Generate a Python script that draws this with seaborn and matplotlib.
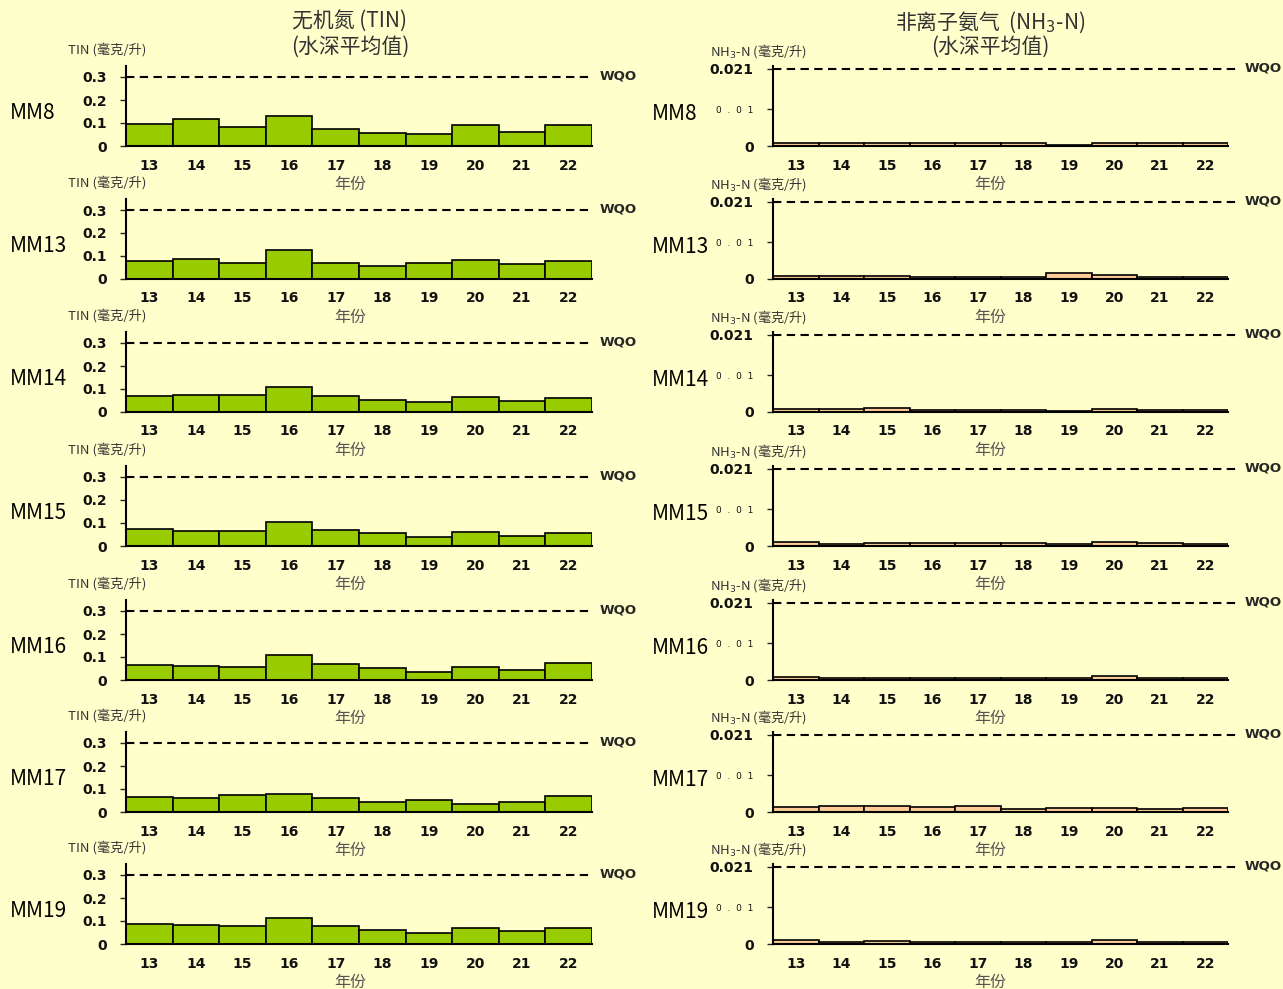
import pandas as pd
import seaborn as sns
import matplotlib.pyplot as plt

# 年份 / 测站
years = ['13', '14', '15', '16', '17', '18', '19', '20', '21', '22']
stations = ['MM8', 'MM13', 'MM14', 'MM15', 'MM16', 'MM17', 'MM19']

# 无机氮 (TIN), 毫克/升
tin_mm8 = [0.096, 0.118, 0.084, 0.131, 0.073, 0.057, 0.053, 0.091, 0.062, 0.091]
tin_mm13 = [0.078, 0.087, 0.070, 0.126, 0.070, 0.057, 0.070, 0.083, 0.065, 0.078]
tin_mm14 = [0.070, 0.074, 0.074, 0.109, 0.070, 0.052, 0.043, 0.065, 0.048, 0.061]
tin_mm15 = [0.074, 0.065, 0.065, 0.104, 0.070, 0.057, 0.039, 0.061, 0.043, 0.057]
tin_mm16 = [0.065, 0.061, 0.057, 0.109, 0.070, 0.052, 0.035, 0.057, 0.043, 0.074]
tin_mm17 = [0.064, 0.060, 0.073, 0.079, 0.063, 0.043, 0.051, 0.036, 0.043, 0.069]
tin_mm19 = [0.086, 0.084, 0.079, 0.114, 0.077, 0.060, 0.049, 0.070, 0.056, 0.070]

# 非离子氨气 (NH3-N), 毫克/升
nh3_mm8 = [0.0008, 0.0007, 0.0008, 0.0007, 0.0007, 0.0007, 0.0002, 0.0008, 0.0007, 0.0007]
nh3_mm13 = [0.0007, 0.0007, 0.0009, 0.0005, 0.0005, 0.0005, 0.0017, 0.0012, 0.0005, 0.0005]
nh3_mm14 = [0.0007, 0.0007, 0.0010, 0.0006, 0.0006, 0.0006, 0.0004, 0.0007, 0.0006, 0.0006]
nh3_mm15 = [0.0011, 0.0006, 0.0008, 0.0008, 0.0008, 0.0008, 0.0005, 0.0011, 0.0008, 0.0005]
nh3_mm16 = [0.0007, 0.0005, 0.0005, 0.0005, 0.0005, 0.0006, 0.0005, 0.0010, 0.0005, 0.0005]
nh3_mm17 = [0.0014, 0.0017, 0.0016, 0.0014, 0.0016, 0.0008, 0.0012, 0.0012, 0.0008, 0.0010]
nh3_mm19 = [0.0010, 0.0006, 0.0008, 0.0006, 0.0006, 0.0006, 0.0005, 0.0010, 0.0006, 0.0006]

tin_wqo = 0.3
nh3_wqo = 0.021

tin_values = [tin_mm8, tin_mm13, tin_mm14, tin_mm15, tin_mm16, tin_mm17, tin_mm19]
nh3_values = [nh3_mm8, nh3_mm13, nh3_mm14, nh3_mm15, nh3_mm16, nh3_mm17, nh3_mm19]

W, H = 1283, 989
BG = '#FFFFCC'

sns.set_style('ticks')
plt.rcParams['font.family'] = ['DejaVu Sans', 'Noto Sans CJK SC']
cjk = ['Noto Sans CJK SC', 'DejaVu Sans']

fig = plt.figure(figsize=(W / 100, H / 100), dpi=100, facecolor=BG)


def fx(x):
    return x / W


def fy(y):
    return 1 - y / H


def panel(x0, x1, z, values, wqo, color, ymax, ticks, ticklabels, wqo_end):
    ax = fig.add_axes([fx(x0), fy(z), fx(x1 - x0), 80 / H])
    ax.set_facecolor(BG)
    df = pd.DataFrame({'year': years, 'value': values})
    sns.barplot(data=df, x='year', y='value', order=years, color=color,
                saturation=1, width=1.0, edgecolor='black', linewidth=1.2, ax=ax)
    ax.plot([-0.5, wqo_end], [wqo, wqo], color='black', lw=1.5,
            ls=(0, (4, 2.6)), clip_on=False)
    ax.set_xlim(-0.5, 9.5)
    ax.set_ylim(0, ymax)
    ax.set_xlabel('')
    ax.set_ylabel('')
    for s in ['top', 'right']:
        ax.spines[s].set_visible(False)
    for s in ['left', 'bottom']:
        ax.spines[s].set_linewidth(1.5)
        ax.spines[s].set_color('black')
    ax.tick_params(axis='x', length=0, pad=9, labelsize=10)
    ax.tick_params(axis='y', length=4, width=1, pad=10, labelsize=10)
    ax.set_yticks(ticks)
    ax.set_yticklabels(ticklabels)
    for lbl in ax.get_xticklabels() + ax.get_yticklabels():
        lbl.set_fontweight('bold')
        lbl.set_color('#111111')
    return ax


row_zero = [146, 279, 412, 546, 680, 812, 944]

for i, st in enumerate(stations):
    z = row_zero[i]

    # 左: TIN
    panel(126, 592, z, tin_values[i], tin_wqo, '#99CC00', 80 / 230,
          [0, 0.1, 0.2, 0.3], ['0', '0.1', '0.2', '0.3'], 9.5)
    fig.text(fx(68), fy(z - 96), 'TIN (毫克/升)', fontsize=9.5, color='#333333',
             ha='left', va='center', family=cjk)
    fig.text(fx(350), fy(z + 38), '年份', fontsize=11.5, color='#555555',
             ha='center', va='center', family=cjk)
    fig.text(fx(10), fy(z - 33), st, fontsize=15, ha='left', va='center',
             family=cjk, color='black')
    fig.text(fx(600), fy(z - 70), 'WQO', fontsize=9.5, fontweight='bold',
             ha='left', va='center')

    # 右: NH3-N
    ax = panel(773, 1228, z, nh3_values[i], nh3_wqo, '#FFCC99', 80 / 3667,
               [0, 0.01, 0.021], ['0', '0  .  0  1', '0.021'], 9.76)
    ax.get_yticklabels()[1].set_fontsize(6.5)
    ax.get_yticklabels()[1].set_fontweight('normal')
    fig.text(fx(710), fy(z - 95), 'NH$_3$-N (毫克/升)', fontsize=9.5,
             color='#333333', ha='left', va='center', family=cjk)
    fig.text(fx(990), fy(z + 38), '年份', fontsize=11.5, color='#555555',
             ha='center', va='center', family=cjk)
    fig.text(fx(652), fy(z - 32), st, fontsize=15, ha='left', va='center',
             family=cjk, color='black')
    fig.text(fx(1245), fy(z - 78), 'WQO', fontsize=9.5, fontweight='bold',
             ha='left', va='center')

# 标题
fig.text(fx(350), fy(22), '无机氮 (TIN)', fontsize=15, color='#333333',
         ha='center', va='center', family=cjk)
fig.text(fx(350), fy(47), '(水深平均值)', fontsize=15, color='#333333',
         ha='center', va='center', family=cjk)
fig.text(fx(990), fy(22), '非离子氨气  (NH$_3$-N)', fontsize=15, color='#333333',
         ha='center', va='center', family=cjk)
fig.text(fx(990), fy(47), '(水深平均值)', fontsize=15, color='#333333',
         ha='center', va='center', family=cjk)

fig.savefig('out.png', dpi=100, facecolor=BG)
